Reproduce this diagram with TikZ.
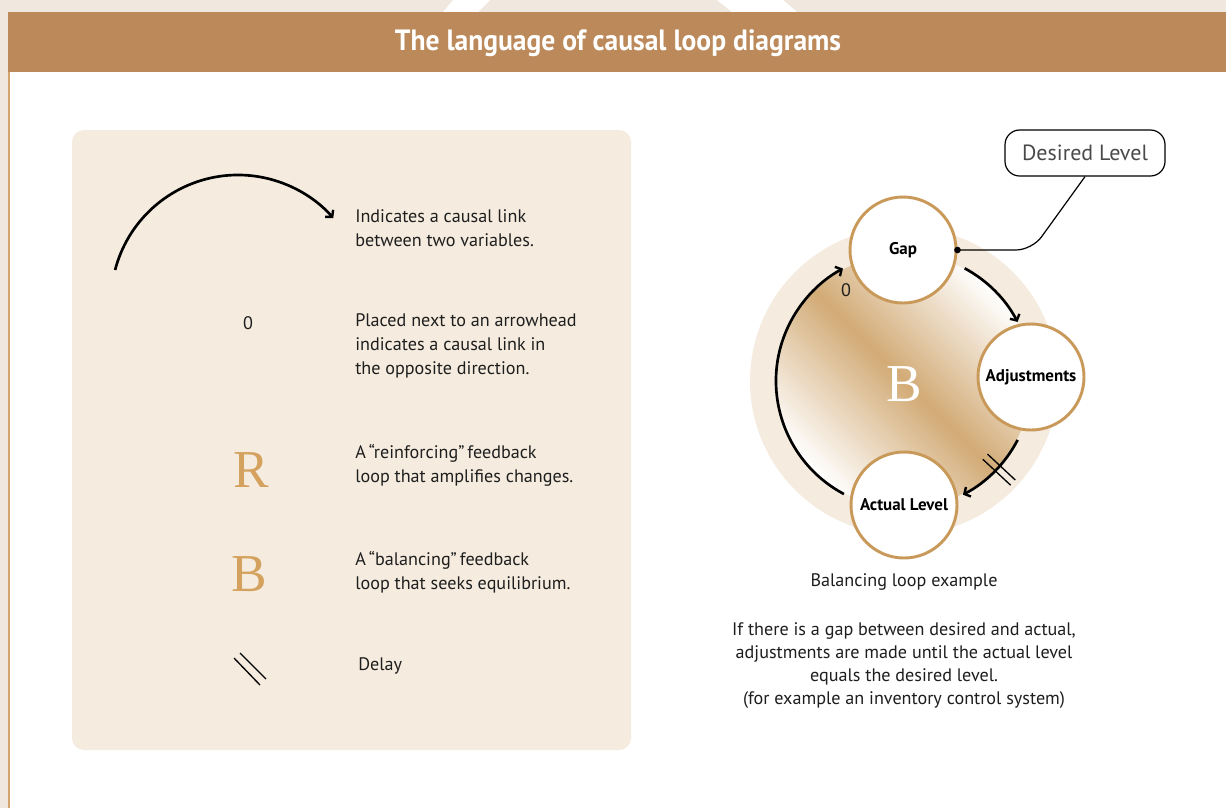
\documentclass[tikz,border=0pt]{standalone}
\usepackage{fontspec}
\setmainfont{PT Sans}
\newfontfamily\titlefont{PT Sans}[FakeStretch=0.94]
\newfontfamily\letterfont{Liberation Serif}
\usetikzlibrary{arrows.meta}

\definecolor{bannerbrown}{HTML}{BC8A5A}
\definecolor{pagebeige}{HTML}{F0E8DF}
\definecolor{panelbeige}{HTML}{F5ECDF}
\definecolor{ringtan}{HTML}{C9995A}
\definecolor{lettertan}{HTML}{D4A25E}
\definecolor{gradtan}{HTML}{D2AB76}
\definecolor{edgetan}{HTML}{D4A36E}
\definecolor{inktext}{HTML}{1E1E1E}
\definecolor{boxtext}{HTML}{4A4A4A}

\tikzset{
  % multi-line nodes: the base anchor sits on the last line
  desc/.style={anchor=base west, align=left, font=\fontsize{13.6}{18}\selectfont, text=inktext, inner sep=0pt},
  caption/.style={anchor=base, align=center, font=\fontsize{13.6}{17.25}\selectfont, text=inktext, inner sep=0pt},
  bigletter/.style={anchor=base, font=\letterfont\fontsize{40}{40}\selectfont, inner sep=0pt},
  loopvar/.style={circle, draw=ringtan, line width=2.2pt, fill=white, minimum size=79.5pt, inner sep=0pt,
                  font=\bfseries\fontsize{12.7}{14}\selectfont, text=black},
  causal/.style={line width=2pt, -{Straight Barb[length=3.5pt, width=8pt, line width=1.8pt]}},
  delaymark/.style={line width=1pt, black},
}

\begin{document}
\begin{tikzpicture}[x=0.75pt, y=-0.75pt]
\useasboundingbox (0,0) rectangle (1226,808);

% page frame
\fill[white] (0,0) rectangle (1226,808);
\fill[pagebeige] (0,0) rectangle (1226,12);
\fill[pagebeige] (0,0) rectangle (8,808);
\fill[white] (443,12) -- (478,12) -- (490,0) -- (453,0) -- cycle;
\fill[white] (717,0) -- (783,0) -- (797,12) -- (732,12) -- cycle;
\fill[edgetan] (8,72) rectangle (9.6,808);

% banner
\fill[bannerbrown] (8,12) rectangle (1226,72);
\node (title) at (618,43) {\titlefont\bfseries\fontsize{22}{24}\selectfont\color{white}The language of causal loop diagrams};

% legend panel
\fill[panelbeige, rounded corners=9pt] (72,130) rectangle (631,750);

\coordinate (legc) at (238,302);
\coordinate (legstart) at ([shift={(-165.4:127)}]legc);
\draw[causal] (legstart) arc[start angle=-165.4, end angle=-41.4, radius=127];
\node[desc] (t1) at (355,246) {Indicates a causal link\\between two variables.};

\node[anchor=base, font=\fontsize{13.6}{16}\selectfont, text=inktext, inner sep=0pt] (zero) at (248,329) {0};
\node[desc] (t2) at (355,374) {Placed next to an arrowhead\\indicates a causal link in\\the opposite direction.};

\node[bigletter, text=lettertan] (rsym) at (251,487) {R};
\node[desc] (t3) at (355,482) {A\,“reinforcing”\,feedback\\loop that amplifies changes.};

\node[bigletter, text=lettertan] (bsym) at (249,591) {B};
\node[desc] (t4) at (355,589) {A\,“balancing”\,feedback\\loop that seeks equilibrium.};

\draw[delaymark] (234,658) -- (260,685);
\draw[delaymark] (240,653) -- (266,679);
\node[desc] (t5) at (358,670) {Delay};

% balancing loop example
\coordinate (loopc) at (904,381);
\fill[panelbeige] (loopc) circle (154);
\begin{scope}[transform canvas={rotate around={-45:(904,381)}}]
  \clip (904,381) circle (127);
  \shade[top color=white, bottom color=white, middle color=gradtan] (777,254) rectangle (1031,508);
\end{scope}
\node[bigletter, text=white] (bloop) at (904,401) {B};

\coordinate (ga) at ([shift={(-61.7:128)}]loopc);
\coordinate (ab) at ([shift={(27.4:128)}]loopc);
\coordinate (ac) at ([shift={(118:128)}]loopc);
\draw[causal] (ga) arc[start angle=-61.7, end angle=-27.5, radius=128];
\draw[causal] (ab) arc[start angle=27.4, end angle=62.6, radius=128];
\draw[causal] (ac) arc[start angle=118, end angle=241.5, radius=128];

\begin{scope}[shift={(loopc)}, rotate=-43]
  \draw[delaymark] (111,-3.5) -- (149,-3.5);
  \draw[delaymark] (111,3.5) -- (149,3.5);
\end{scope}

\node[loopvar] (gap) at (903,250) {Gap};
\node[loopvar] (adj) at (1031,377) {Adjustments};
\node[loopvar] (actual) at (904,505) {Actual Level};

\node[anchor=base, font=\fontsize{13.6}{16}\selectfont, text=inktext, inner sep=0pt] (zeroloop) at (846,296) {0};

\node[draw=black, line width=0.9pt, rounded corners=11pt, minimum width=120pt, minimum height=34.5pt,
      font=\fontsize{16.5}{19}\selectfont, text=boxtext] (desired) at (1085,153) {Desired Level};
\draw[line width=0.9pt, rounded corners=12pt] (gap.east) -- (1032,250) -- (desired.south);
\fill (gap.east) circle (3.3);

\node[caption] (cap) at (904,586) {Balancing loop example};
\node[caption] (expl) at (904,704) {If there is a gap between desired and actual,\\adjustments are made until the actual level\\equals the desired level.\\(for example an inventory control system)};
\end{tikzpicture}
\end{document}
